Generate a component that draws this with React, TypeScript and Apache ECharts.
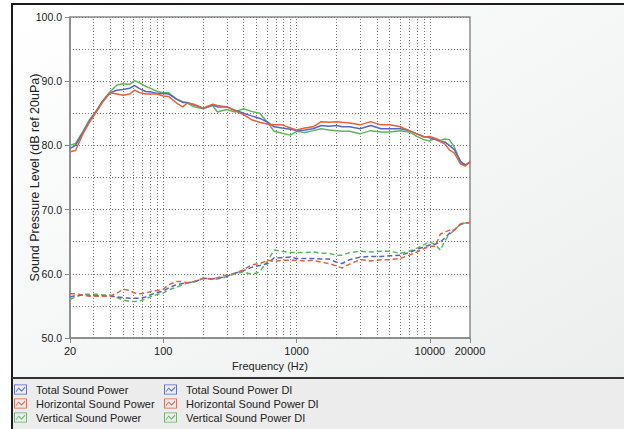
import React, { useEffect, useRef } from 'react';
import * as echarts from 'echarts';

const FREQ = [20, 22, 25, 28, 31.5, 35, 40, 45, 50, 56, 61, 67, 74, 82, 90, 100, 110, 126, 140, 152, 170, 200, 235, 255, 300, 345, 400, 460, 530, 610, 680, 780, 900, 1000, 1150, 1330, 1530, 1750, 2000, 2200, 2500, 3000, 3600, 4300, 5000, 6000, 7000, 8000, 9000, 10000, 11000, 12000, 13000, 14000, 15300, 17000, 18500, 20000];

const TOTAL_SP = [79.5, 80.0, 82.0, 83.8, 85.3, 86.8, 88.2, 88.6, 88.7, 88.9, 89.3, 88.8, 88.4, 88.3, 88.1, 88.1, 88.0, 87.2, 86.7, 86.7, 86.3, 85.8, 86.3, 86.0, 86.0, 85.5, 85.0, 84.6, 84.2, 83.6, 82.9, 82.7, 82.5, 82.3, 82.4, 82.6, 83.1, 83.0, 83.1, 82.9, 82.9, 82.6, 83.1, 82.6, 82.6, 82.6, 82.3, 81.8, 81.4, 81.2, 80.9, 80.6, 80.5, 80.0, 79.3, 77.5, 76.9, 77.4];
const HORIZ_SP = [79.0, 79.2, 81.8, 83.6, 85.2, 86.7, 88.2, 88.0, 87.8, 88.0, 88.6, 88.2, 88.0, 88.0, 88.0, 87.7, 87.6, 86.6, 86.0, 86.6, 86.4, 85.8, 86.4, 86.2, 86.0, 85.4, 84.8, 84.0, 83.6, 83.3, 83.2, 83.2, 82.7, 82.4, 82.7, 82.9, 83.7, 83.6, 83.7, 83.6, 83.5, 83.2, 83.7, 83.2, 83.2, 82.9, 82.3, 81.8, 81.3, 81.4, 81.1, 80.6, 80.2, 79.3, 78.8, 77.1, 76.8, 77.5];
const VERT_SP = [80.0, 80.3, 82.2, 84.0, 85.4, 86.9, 88.4, 89.4, 89.6, 89.5, 90.1, 89.7, 89.2, 88.8, 88.4, 88.2, 88.2, 87.2, 86.8, 86.6, 86.0, 85.7, 86.2, 85.2, 85.6, 85.2, 85.7, 85.3, 85.0, 83.5, 82.2, 81.9, 81.6, 82.2, 82.0, 82.3, 82.6, 82.4, 82.3, 82.2, 82.2, 81.8, 82.3, 82.1, 82.1, 82.3, 82.1, 81.4, 80.9, 80.7, 81.1, 80.8, 81.0, 80.9, 79.7, 77.3, 77.0, 77.4];
const TOTAL_DI = [56.4, 56.6, 56.7, 56.6, 56.6, 56.6, 56.5, 56.4, 56.3, 56.2, 56.2, 56.2, 56.4, 56.8, 57.1, 57.3, 57.8, 58.3, 58.5, 58.6, 58.7, 59.3, 59.2, 59.3, 59.6, 60.1, 60.5, 61.0, 61.3, 61.6, 62.5, 62.5, 62.6, 62.4, 62.4, 62.4, 62.3, 62.3, 61.8, 61.6, 62.2, 62.6, 62.7, 62.7, 62.8, 62.9, 63.3, 63.8, 64.2, 64.5, 64.6, 65.0, 65.6, 66.3, 66.9, 67.7, 67.9, 68.0];
const HORIZ_DI = [56.9, 56.9, 56.7, 56.5, 56.5, 56.5, 56.5, 57.0, 57.6, 57.4, 57.0, 56.9, 57.0, 57.3, 57.4, 57.6, 58.3, 58.8, 58.8, 58.6, 58.8, 59.3, 59.2, 59.4, 59.8, 60.1, 60.6, 61.4, 61.6, 62.1, 61.9, 62.1, 62.1, 62.1, 62.0, 62.1, 61.8, 61.6, 61.2, 60.9, 61.5, 62.2, 62.0, 62.2, 62.2, 62.4, 62.9, 63.4, 63.9, 64.3, 64.3, 66.2, 66.5, 66.8, 66.8, 67.8, 67.9, 68.0];
const VERT_DI = [56.0, 56.4, 56.8, 56.8, 56.8, 56.7, 56.7, 56.3, 55.9, 55.7, 55.7, 55.8, 56.1, 56.5, 56.8, 57.0, 57.5, 57.9, 58.3, 58.6, 58.7, 59.3, 59.1, 59.2, 59.5, 60.0, 60.3, 59.9, 60.3, 62.1, 63.7, 63.5, 63.3, 63.3, 63.3, 63.4, 63.2, 63.2, 62.9, 62.9, 63.3, 63.5, 63.4, 63.5, 63.5, 63.2, 63.5, 64.0, 64.5, 65.0, 64.5, 63.7, 65.2, 66.1, 66.8, 67.8, 67.9, 68.0];

const GRID_FREQ = [30, 40, 50, 60, 70, 80, 90, 100, 200, 300, 400, 500, 600, 700, 800, 900, 1000, 2000, 3000, 4000, 5000, 6000, 7000, 8000, 9000, 10000];

const NAMES_SP = ['Total Sound Power', 'Horizontal Sound Power', 'Vertical Sound Power'];
const NAMES_DI = ['Total Sound Power DI', 'Horizontal Sound Power DI', 'Vertical Sound Power DI'];

const BLUE = '#5566c8';
const RED = '#e8603c';
const GREEN = '#5db85c';

const ICON =
  'path://M0 0H14V11H0Z M1 1V10H13V1Z M2 7.4L5 3.4L8 6.4L12 2.4L12 3.8L8 7.8L5 4.8L2 8.8Z';

const FONT = "'Liberation Sans', Arial, sans-serif";

function mk(name: string, vals: number[], color: string, dashed: boolean) {
  return {
    name,
    type: 'line',
    data: FREQ.map((f, i) => [f, vals[i]]),
    showSymbol: false,
    symbol: 'none',
    silent: true,
    z: 3,
    lineStyle: { color, width: 1.5, type: dashed ? [5, 3] : 'solid' },
    itemStyle: { color },
  };
}

export default function App() {
  const ref = useRef<HTMLDivElement>(null);
  useEffect(() => {
    const chart = echarts.init(ref.current!, null, { renderer: 'svg', width: 624, height: 429 });
    const legendBase = {
      orient: 'vertical',
      top: 383,
      padding: 0,
      itemWidth: 13,
      itemHeight: 11,
      itemGap: 1,
      icon: ICON,
      selectedMode: false,
      textStyle: { fontSize: 11, color: '#222', fontFamily: FONT, lineHeight: 13, padding: [0, 0, 0, 4] },
    };
    const option: any = {
      animation: false,
      backgroundColor: '#ffffff',
      textStyle: { fontFamily: FONT },
      graphic: [
        {
          type: 'rect', z: -10, silent: true,
          shape: { x: 13, y: 5, width: 611, height: 372 },
          style: {
            fill: new echarts.graphic.LinearGradient(0, 0, 1, 1, [
              { offset: 0, color: '#ffffff' },
              { offset: 1, color: '#eceeee' },
            ]),
          },
        },
        { type: 'rect', z: -10, silent: true, shape: { x: 13, y: 379, width: 611, height: 50 }, style: { fill: '#ececec' } },
        { type: 'line', z: -5, silent: true, shape: { x1: 11, y1: 4, x2: 624, y2: 4 }, style: { stroke: '#1c1c1c', lineWidth: 2 } },
        { type: 'line', z: -5, silent: true, shape: { x1: 12, y1: 3, x2: 12, y2: 429 }, style: { stroke: '#1c1c1c', lineWidth: 2 } },
        { type: 'line', z: -5, silent: true, shape: { x1: 12, y1: 378, x2: 624, y2: 378 }, style: { stroke: '#333333', lineWidth: 2 } },
      ],
      grid: {
        left: 70, right: 154, top: 17, bottom: 91,
        show: true, backgroundColor: '#ffffff', borderColor: '#8a8a8a', borderWidth: 1.5,
      },
      legend: [
        { ...legendBase, left: 14, data: NAMES_SP },
        { ...legendBase, left: 164, data: NAMES_DI },
      ],
      xAxis: {
        type: 'log', logBase: 10, min: 20, max: 20000,
        name: 'Frequency (Hz)', nameLocation: 'middle', nameGap: 22,
        nameTextStyle: { fontSize: 11, color: '#222', fontFamily: FONT },
        axisLine: { show: true, lineStyle: { color: '#8a8a8a', width: 1.5 } },
        axisTick: { show: true, length: 5, lineStyle: { color: '#8a8a8a' } },
        axisLabel: {
          fontSize: 11, color: '#222', margin: 7, showMinLabel: true, showMaxLabel: true,
          formatter: (v: number) => String(Math.round(v)),
        },
        splitLine: { show: false },
      },
      yAxis: {
        type: 'value', min: 50, max: 100, interval: 10,
        name: 'Sound Pressure Level (dB ref 20uPa)', nameLocation: 'middle', nameGap: 29,
        nameMoveOverlap: false,
        nameTextStyle: { fontSize: 12.5, color: '#222', fontFamily: FONT },
        axisLine: { show: true, lineStyle: { color: '#8a8a8a', width: 1.5 } },
        axisTick: { show: true, length: 5, lineStyle: { color: '#8a8a8a' } },
        axisLabel: { fontSize: 10.5, color: '#222', margin: 8, formatter: (v: number) => v.toFixed(1) },
        splitLine: { show: true, lineStyle: { color: '#7a7a7a', width: 1, type: [1, 2] } },
        minorTick: { show: false, splitNumber: 2 },
        minorSplitLine: { show: true, lineStyle: { color: '#7a7a7a', width: 1, type: [1, 2] } },
      },
      series: [
        {
          name: 'gridlines', type: 'line', data: [], z: 1, silent: true,
          markLine: {
            z: 1, silent: true, symbol: ['none', 'none'], label: { show: false },
            lineStyle: { color: '#7a7a7a', width: 1, type: [1, 2] },
            data: GRID_FREQ.map((f) => ({ xAxis: f })),
          },
        },
        mk(NAMES_SP[2], VERT_SP, GREEN, false),
        mk(NAMES_SP[0], TOTAL_SP, BLUE, false),
        mk(NAMES_SP[1], HORIZ_SP, RED, false),
        mk(NAMES_DI[2], VERT_DI, GREEN, true),
        mk(NAMES_DI[0], TOTAL_DI, BLUE, true),
        mk(NAMES_DI[1], HORIZ_DI, RED, true),
      ],
    };
    chart.setOption(option);
    return () => chart.dispose();
  }, []);
  return <div ref={ref} style={{ position: 'absolute', left: 0, top: 0, width: 624, height: 429 }} />;
}
